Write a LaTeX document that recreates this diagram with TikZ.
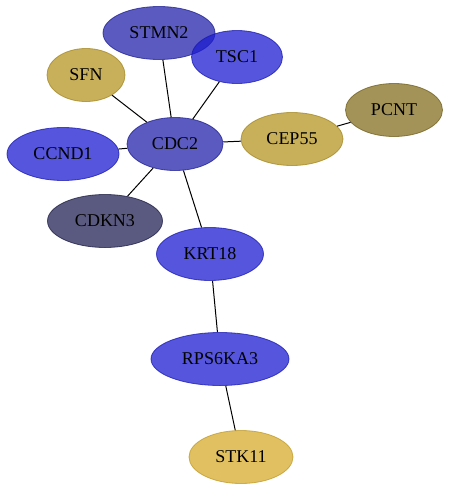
\documentclass[tikz,border=0pt]{standalone}
\usepackage{fontspec}
\setmainfont{Liberation Serif}
\usepackage{tikz}
\usetikzlibrary{shapes.geometric}
\definecolor{blueA}{HTML}{1C1CD1}
\definecolor{blueB}{HTML}{2323AB}
\definecolor{slateA}{HTML}{232355}
\definecolor{goldA}{HTML}{B59523}
\definecolor{goldB}{HTML}{D5AB2B}
\definecolor{oliveA}{HTML}{846F20}
\tikzset{gene/.style={ellipse,draw,line width=0.8pt,inner sep=0pt,minimum height=53pt,font=\fontsize{18}{18}\selectfont,fill opacity=0.75,draw opacity=0.75,text opacity=1}}
\tikzset{bluegene/.style={gene,fill=blueA,draw=blueA!85!black}}
\tikzset{midgene/.style={gene,fill=blueB,draw=blueB!85!black}}
\tikzset{darkgene/.style={gene,fill=slateA,draw=slateA!80!black}}
\tikzset{goldgene/.style={gene,fill=goldA,draw=goldA!90!black}}
\tikzset{lightgene/.style={gene,fill=goldB,draw=goldB!90!black}}
\tikzset{olivegene/.style={gene,fill=oliveA,draw=oliveA!85!black}}
\tikzset{link/.style={line width=1pt}}
\begin{document}
\begin{tikzpicture}[x=1pt,y=-1pt]
\useasboundingbox (0,0) rectangle (449,491);
% nodes
\node [midgene,minimum width=112pt] (stmn2) at (159,33) {STMN2};
\node [bluegene,minimum width=91pt] (tsc1) at (237,57) {TSC1};
\node [goldgene,minimum width=78pt] (sfn) at (86,75) {SFN};
\node [midgene,minimum width=96pt] (cdc2) at (175,144) {CDC2};
\node [bluegene,minimum width=112pt] (ccnd1) at (63,154) {CCND1};
\node [darkgene,minimum width=115pt] (cdkn3) at (105,221) {CDKN3};
\node [goldgene,minimum width=102pt] (cep55) at (292,139) {CEP55};
\node [olivegene,minimum width=97pt] (pcnt) at (394,110) {PCNT};
\node [bluegene,minimum width=107pt] (krt18) at (210,254) {KRT18};
\node [bluegene,minimum width=138pt] (rps6ka3) at (220,359) {RPS6KA3};
\node [lightgene,minimum width=104pt] (stk11) at (241,457) {STK11};
% edges
\draw [link] (stmn2)--(cdc2);
\draw [link] (tsc1)--(cdc2);
\draw [link] (sfn)--(cdc2);
\draw [link] (ccnd1)--(cdc2);
\draw [link] (cdkn3)--(cdc2);
\draw [link] (cep55)--(cdc2);
\draw [link] (krt18)--(cdc2);
\draw [link] (cep55)--(pcnt);
\draw [link] (krt18)--(rps6ka3);
\draw [link] (rps6ka3)--(stk11);
\end{tikzpicture}
\end{document}
